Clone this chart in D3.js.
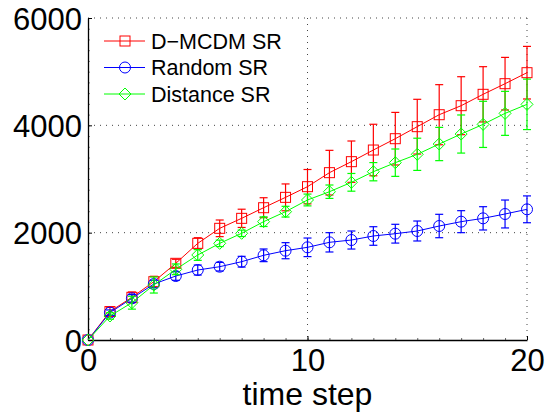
<!DOCTYPE html>
<html>
<head>
<meta charset="utf-8">
<script src="https://cdn.jsdelivr.net/npm/d3@7"></script>
<style>
  body { margin: 0; background: #fff; }
  text { font-family: "Liberation Sans", Arial, sans-serif; }
</style>
</head>
<body>
<div id="chart"></div>
<script>
var steps = d3.range(0, 21);

var mcdmMean = [0, 530, 795, 1087, 1429, 1801, 2081, 2267, 2465, 2658, 2857, 3118, 3323, 3540, 3751, 3975, 4198, 4366, 4578, 4776, 4981];
var mcdmErr  = [0, 80, 100, 100, 75, 105, 155, 170, 186, 250, 320, 416, 385, 480, 490, 510, 560, 540, 515, 490, 490];

var randomMean = [0, 510, 776, 1043, 1192, 1304, 1366, 1459, 1578, 1664, 1727, 1820, 1863, 1938, 1981, 2031, 2124, 2205, 2267, 2348, 2435];
var randomErr  = [0, 50, 70, 70, 80, 93, 80, 100, 118, 150, 173, 180, 168, 173, 175, 186, 218, 205, 217, 260, 250];

var distMean = [0, 447, 695, 1025, 1317, 1584, 1801, 1988, 2205, 2391, 2609, 2763, 2938, 3136, 3304, 3460, 3652, 3838, 4018, 4223, 4391];
var distErr  = [0, 60, 120, 150, 100, 100, 60, 60, 90, 100, 110, 125, 165, 170, 255, 300, 310, 355, 430, 410, 470];

var xTicks = [0, 10, 20];
var yTicks = [0, 2000, 4000, 6000];

var series = [
  {name: "D\u2212MCDM SR", mean: mcdmMean, err: mcdmErr, color: "#ff0000", marker: "square"},
  {name: "Random SR", mean: randomMean, err: randomErr, color: "#0000ff", marker: "circle"},
  {name: "Distance SR", mean: distMean, err: distErr, color: "#00ff00", marker: "diamond"}
];

var margin = {top: 18, right: 20, bottom: 73, left: 88};
var width = 547 - margin.left - margin.right;
var height = 413 - margin.top - margin.bottom;

var x = d3.scaleLinear().domain([0, 20]).range([0, width]);
var y = d3.scaleLinear().domain([0, 6000]).range([height, 0]);

var svg = d3.select("#chart")
  .append("svg")
  .attr("width", 547)
  .attr("height", 413)
  .append("g")
  .attr("transform", "translate(" + margin.left + "," + margin.top + ")");

// dotted grid
svg.append("g")
  .selectAll("line")
  .data(yTicks.filter(d => d > 0))
  .enter().append("line")
  .attr("x1", 0).attr("x2", width)
  .attr("y1", d => y(d)).attr("y2", d => y(d))
  .attr("stroke", "#444").attr("stroke-width", 1)
  .attr("stroke-dasharray", "1,5");

svg.append("g")
  .selectAll("line")
  .data(xTicks.filter(d => d > 0))
  .enter().append("line")
  .attr("x1", d => x(d)).attr("x2", d => x(d))
  .attr("y1", 0).attr("y2", height)
  .attr("stroke", "#444").attr("stroke-width", 1)
  .attr("stroke-dasharray", "1,5");

// minor ticks
svg.append("g")
  .attr("transform", "translate(0," + height + ")")
  .call(d3.axisTop(x).tickValues(d3.range(0, 21, 1)).tickSize(2).tickFormat(""))
  .call(g => g.select(".domain").remove())
  .selectAll("line").attr("stroke", "#666");
svg.append("g")
  .call(d3.axisRight(y).tickValues(d3.range(0, 6001, 200)).tickSize(2).tickFormat(""))
  .call(g => g.select(".domain").remove())
  .selectAll("line").attr("stroke", "#888");

// axes
var xAxis = svg.append("g")
  .attr("transform", "translate(0," + height + ")")
  .call(d3.axisBottom(x).tickValues(xTicks).tickFormat(d3.format("d"))
    .tickSizeInner(-4).tickSizeOuter(0).tickPadding(9));
var yAxis = svg.append("g")
  .call(d3.axisLeft(y).tickValues(yTicks).tickFormat(d3.format("d"))
    .tickSizeInner(-4).tickSizeOuter(0).tickPadding(6));

[xAxis, yAxis].forEach(function(a) {
  a.select(".domain").attr("stroke", "#000").attr("stroke-width", 1.3);
  a.selectAll(".tick line").attr("stroke", "#000");
  a.selectAll("text")
    .attr("font-family", "Liberation Sans, Arial, sans-serif")
    .attr("font-size", "31px")
    .attr("fill", "#000");
});
yAxis.selectAll("text").attr("dy", "0.36em");

svg.append("text")
  .attr("x", width / 2)
  .attr("y", height + 65)
  .attr("text-anchor", "middle")
  .attr("font-size", "32px")
  .text("time step");

var line = d3.line()
  .x((d, i) => x(steps[i]))
  .y(d => y(d));

function drawMarker(g, type, color) {
  if (type === "square") {
    g.append("rect").attr("x", -5).attr("y", -5).attr("width", 10).attr("height", 10)
      .attr("fill", "none").attr("stroke", color).attr("stroke-width", 1);
  } else if (type === "circle") {
    g.append("circle").attr("r", 5.5)
      .attr("fill", "none").attr("stroke", color).attr("stroke-width", 1);
  } else {
    g.append("path").attr("d", "M0,-6L6,0L0,6L-6,0Z")
      .attr("fill", "none").attr("stroke", color).attr("stroke-width", 1);
  }
}

series.forEach(function(s) {
  var g = svg.append("g");
  var pts = steps.map((t, i) => ({t: t, m: s.mean[i], e: s.err[i]}));

  var bars = g.selectAll(".eb").data(pts.filter(d => d.e > 0)).enter().append("g")
    .attr("stroke", s.color).attr("stroke-width", 1.2);
  bars.append("line")
    .attr("x1", d => x(d.t)).attr("x2", d => x(d.t))
    .attr("y1", d => y(d.m - d.e)).attr("y2", d => y(d.m + d.e));
  bars.append("line")
    .attr("x1", d => x(d.t) - 4).attr("x2", d => x(d.t) + 4)
    .attr("y1", d => y(d.m + d.e)).attr("y2", d => y(d.m + d.e));
  bars.append("line")
    .attr("x1", d => x(d.t) - 4).attr("x2", d => x(d.t) + 4)
    .attr("y1", d => y(d.m - d.e)).attr("y2", d => y(d.m - d.e));

  g.append("path")
    .attr("d", line(s.mean))
    .attr("fill", "none").attr("stroke", s.color).attr("stroke-width", 1);

  g.selectAll(".mk").data(pts).enter().append("g")
    .attr("transform", d => "translate(" + x(d.t) + "," + y(d.m) + ")")
    .each(function() { drawMarker(d3.select(this), s.marker, s.color); });
});

// legend
var legend = svg.append("g").attr("transform", "translate(16,23)");
series.forEach(function(s, i) {
  var row = legend.append("g").attr("transform", "translate(0," + (i * 26.5) + ")");
  row.append("line").attr("x1", 0).attr("x2", 41).attr("y1", 0).attr("y2", 0)
    .attr("stroke", s.color).attr("stroke-width", 1);
  var m = row.append("g").attr("transform", "translate(21,0)");
  drawMarker(m, s.marker, s.color);
  row.append("text")
    .attr("x", 47).attr("y", 0).attr("dy", "0.36em")
    .attr("font-size", "21.5px")
    .text(s.name);
});
</script>
</body>
</html>
